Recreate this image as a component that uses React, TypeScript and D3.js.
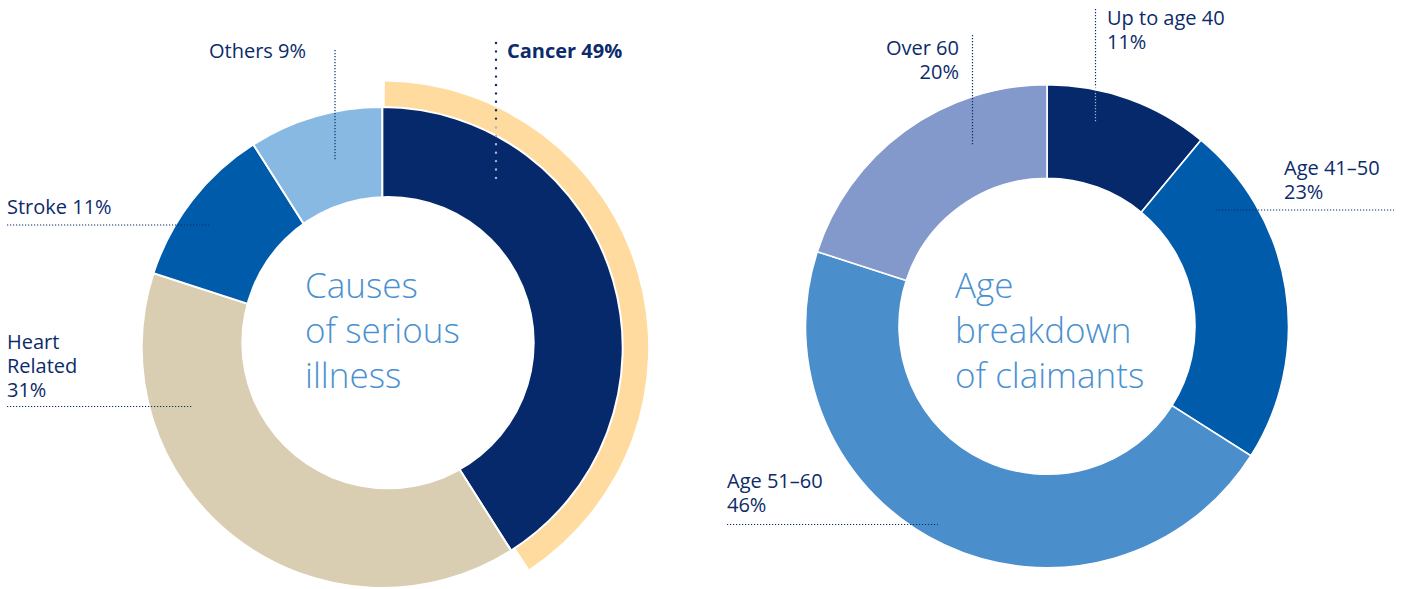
import React from "react";
import * as d3 from "d3";

// Causes of serious illness (slice sizes as drawn, label text as printed)
const illnessNames = ["Cancer", "Heart Related", "Stroke", "Others"];
const illnessShares = [41, 39, 11, 9];
const illnessLabels = ["49%", "31%", "11%", "9%"];
const illnessColors = ["#05296a", "#d9cdb2", "#005baa", "#88b9e3"];

// Age breakdown of claimants
const ageNames = ["Up to age 40", "Age 41–50", "Age 51–60", "Over 60"];
const ageShares = [11, 23, 46, 20];
const ageColors = ["#05296a", "#005baa", "#4a8ecb", "#8398cb"];

const NAVY = "#0b2b6b";
const LIGHT_DOT = "#aab5d2";
const TITLE = "#4b91d0";
const FONT = "'Open Sans', 'Noto Sans', sans-serif";

const pie = d3
	.pie<number>()
	.sort(null)
	.value((d) => d);

const leftArc = d3.arc<d3.PieArcDatum<number>>().innerRadius(0).outerRadius(240.5);
const rightArc = d3.arc<d3.PieArcDatum<number>>().innerRadius(148).outerRadius(241.5);
const highlightArc = d3.arc().innerRadius(241.5).outerRadius(266);

const Dots = (props: { x1: number; y1: number; x2: number; y2: number; color?: string; big?: boolean }) => (
	<line
		x1={props.x1}
		y1={props.y1}
		x2={props.x2}
		y2={props.y2}
		stroke={props.color || NAVY}
		strokeWidth={props.big ? 2.4 : 1.2}
		strokeLinecap={props.big ? "round" : "butt"}
		strokeDasharray={props.big ? "0 8.4" : "1.2 1.8"}
	/>
);

const Label = (props: { x: number; y: number; lines: string[]; anchor?: string; bold?: boolean }) => (
	<text
		x={props.x}
		y={props.y}
		fill={NAVY}
		fontFamily={FONT}
		fontSize={20}
		fontWeight={props.bold ? 700 : 400}
		textAnchor={props.anchor || "start"}>
		{props.lines.map((l, i) => (
			<tspan key={i} x={props.x} dy={i === 0 ? 0 : 23.8}>
				{l}
			</tspan>
		))}
	</text>
);

const Title = (props: { x: number; y: number; lines: string[] }) => (
	<text x={props.x} y={props.y} fill={TITLE} fontFamily={FONT} fontSize={35} fontWeight={300}>
		{props.lines.map((l, i) => (
			<tspan key={i} x={props.x} dy={i === 0 ? 0 : 45}>
				{l}
			</tspan>
		))}
	</text>
);

export default function App() {
	const leftSlices = pie(illnessShares);
	const rightSlices = pie(ageShares);
	const cancer = leftSlices[0];
	return (
		<svg width={1405} height={589} style={{ position: "absolute", left: 0, top: 0, background: "#fff" }}>
			{/* left donut */}
			<g transform="translate(382.2, 347.5)">
				{leftSlices.map((s, i) => (
					<path key={i} d={leftArc(s) || ""} fill={illnessColors[i]} stroke="#fff" strokeWidth={2} />
				))}
				<path
					d={
						highlightArc({
							startAngle: cancer.startAngle + 0.01,
							endAngle: cancer.endAngle - 0.02,
							innerRadius: 241.5,
							outerRadius: 266
						}) || ""
					}
					fill="#ffdba0"
				/>
			</g>
			<circle cx={388} cy={342.6} r={146.7} fill="#fff" />

			{/* right donut */}
			<g transform="translate(1047, 326.3)">
				{rightSlices.map((s, i) => (
					<path key={i} d={rightArc(s) || ""} fill={ageColors[i]} stroke="#fff" strokeWidth={1.6} />
				))}
			</g>

			{/* leader lines */}
			<Dots x1={496} y1={43} x2={496} y2={119} big />
			<Dots x1={496} y1={127.5} x2={496} y2={178} big color={LIGHT_DOT} />
			<Dots x1={335} y1={50} x2={335} y2={160} />
			<Dots x1={7} y1={225} x2={211} y2={225} />
			<Dots x1={7} y1={406.5} x2={193} y2={406.5} />
			<Dots x1={972.5} y1={35} x2={972.5} y2={145} />
			<Dots x1={1095.5} y1={9} x2={1095.5} y2={87} />
			<Dots x1={1095.5} y1={87} x2={1095.5} y2={123} color={LIGHT_DOT} />
			<Dots x1={1216} y1={210} x2={1394} y2={210} />
			<Dots x1={727} y1={524.5} x2={938} y2={524.5} />

			{/* labels */}
			<Label x={507} y={58} lines={[`${illnessNames[0]} ${illnessLabels[0]}`]} bold />
			<Label x={209} y={58} lines={[`${illnessNames[3]} ${illnessLabels[3]}`]} />
			<Label x={7} y={214} lines={[`${illnessNames[2]} ${illnessLabels[2]}`]} />
			<Label x={7} y={349} lines={[...illnessNames[1].split(" "), illnessLabels[1]]} />

			<Label x={959} y={55} lines={[ageNames[3], `${ageShares[3]}%`]} anchor="end" />
			<Label x={1107} y={25} lines={[ageNames[0], `${ageShares[0]}%`]} />
			<Label x={1284} y={175} lines={[ageNames[1], `${ageShares[1]}%`]} />
			<Label x={727} y={488} lines={[ageNames[2], `${ageShares[2]}%`]} />

			<Title x={305} y={298} lines={["Causes", "of serious", "illness"]} />
			<Title x={955} y={298} lines={["Age", "breakdown", "of claimants"]} />
		</svg>
	);
}
